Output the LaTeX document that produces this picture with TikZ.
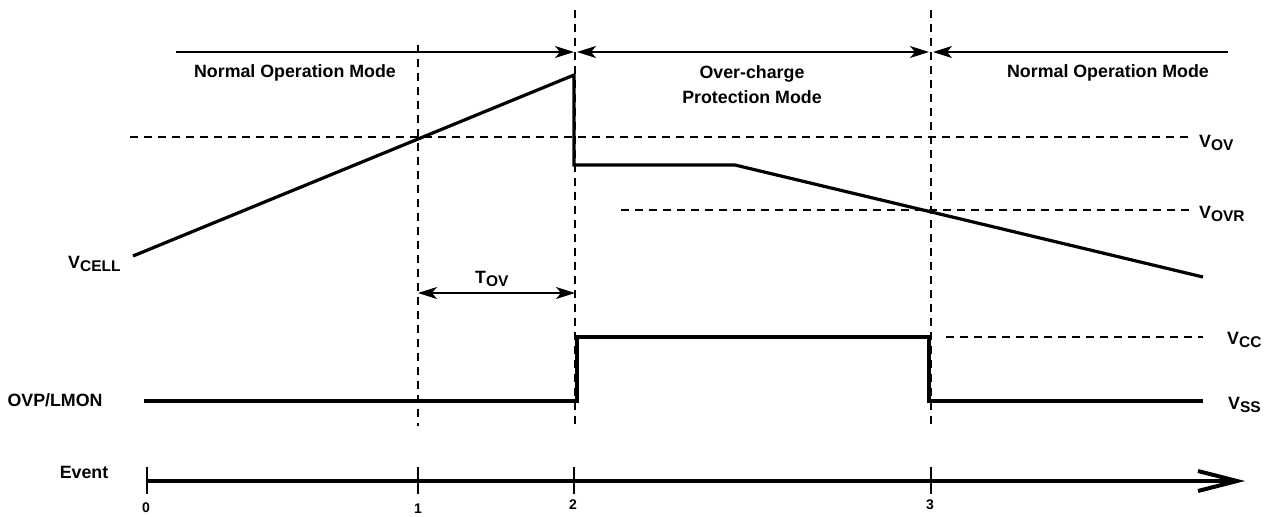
\documentclass[tikz,border=0pt]{standalone}
\usepackage{fontspec}
\setmainfont{Liberation Sans}
\usetikzlibrary{arrows.meta}
\newcommand{\vsub}[2]{#1\raisebox{-3.8pt}{\fontsize{15.5}{16}\selectfont #2}}
\begin{document}
\begin{tikzpicture}[x=1pt,y=-1pt,
  >={Stealth[length=19pt,width=12pt,inset=5pt]},
  txt/.style={font=\fontsize{17.8}{21}\selectfont\bfseries, inner sep=0pt},
  lbl/.style={font=\fontsize{17.8}{21}\selectfont\bfseries, inner sep=0pt, anchor=base west},
  num/.style={font=\fontsize{14}{16}\selectfont\bfseries, inner sep=0pt},
  sig/.style={line width=3.2pt, line join=miter},
  guide/.style={line width=1.3pt, dash pattern=on 7.5pt off 6.5pt},
  span/.style={line width=1.6pt},
  axis/.style={line width=4pt},
  tick/.style={line width=1.8pt}]
\useasboundingbox (0,0) rectangle (1270,517);
% vertical guides
\coordinate (g1t) at (418,45);  \coordinate (g1b) at (418,426);
\coordinate (g2t) at (575,10);  \coordinate (g2b) at (575,426);
\coordinate (g3t) at (931,10);  \coordinate (g3b) at (931,426);
\draw[guide] (g1t) -- (g1b);
\draw[guide] (g2t) -- (g2b);
\draw[guide] (g3t) -- (g3b);
% horizontal guides
\coordinate (ovl) at (130,137); \coordinate (ovr) at (1193,137);
\coordinate (ovrl) at (621,210); \coordinate (ovrr) at (1193,210);
\coordinate (ccl) at (946,337); \coordinate (ccr) at (1203,337);
\draw[guide] (ovl) -- (ovr);
\draw[guide] (ovrl) -- (ovrr);
\draw[guide] (ccl) -- (ccr);
% mode arrows
\coordinate (a1s) at (176,52); \coordinate (a1e) at (574,52);
\coordinate (a2s) at (577,52); \coordinate (a2e) at (929,52);
\coordinate (a3s) at (1228,52); \coordinate (a3e) at (933,52);
\draw[span,->] (a1s) -- (a1e);
\draw[span,<->] (a2s) -- (a2e);
\draw[span,->] (a3s) -- (a3e);
\node[txt] (nom1) at (295,73) {Normal Operation Mode};
\node[txt] (oc) at (752,74) {Over-charge};
\node[txt] (pm) at (752,97) {Protection Mode};
\node[txt] (nom2) at (1108,73) {Normal Operation Mode};
% VCELL waveform
\coordinate (c0) at (133,256);
\coordinate (c1) at (574,75);
\coordinate (c2) at (574,165);
\coordinate (c3) at (735,165);
\coordinate (c4) at (1203,277);
\draw[sig] (c0) -- (c1) -- (c2) -- (c3) -- (c4);
% T_OV
\coordinate (t1) at (418,293); \coordinate (t2) at (575,293);
\draw[span,<->] (t1) -- (t2);
\node[lbl] (tov) at (475,283) {\vsub{T}{OV}};
% OVP/LMON waveform
\coordinate (o0) at (144,401);
\coordinate (o1) at (577,401);
\coordinate (o2) at (577,337);
\coordinate (o3) at (929,337);
\coordinate (o4) at (929,401);
\coordinate (o5) at (1203,401);
\draw[sig] (o0) -- (o1) -- (o2) -- (o3) -- (o4) -- (o5);
% labels
\node[lbl] (vcell) at (68,268) {\vsub{V}{CELL}};
\node[txt] (ovp) at (55,400) {OVP/LMON};
\node[lbl] (vov) at (1199,147) {\vsub{V}{OV}};
\node[lbl] (vovr) at (1199,218) {\vsub{V}{OVR}};
\node[lbl] (vcc) at (1227,344) {\vsub{V}{CC}};
\node[lbl] (vss) at (1228,409) {\vsub{V}{SS}};
% event axis
\coordinate (e0) at (147,481);
\coordinate (eend) at (1237,481);
\coordinate (bu) at (1198,471);
\coordinate (bd) at (1198,491);
\draw[axis] (e0) -- (eend);
\draw[axis, line cap=butt, line join=miter] (bu) -- (eend) -- (bd);
\foreach \n/\x in {0/147,1/418,2/574,3/931}{
  \coordinate (k\n t) at (\x,467);
  \coordinate (k\n b) at (\x,494);
  \draw[tick] (k\n t) -- (k\n b);
}
\node[txt] (ev) at (84,472) {Event};
\node[num] (n0) at (146,508) {0};
\node[num] (n1) at (418,509) {1};
\node[num] (n2) at (573,505) {2};
\node[num] (n3) at (930,505) {3};
\end{tikzpicture}
\end{document}
